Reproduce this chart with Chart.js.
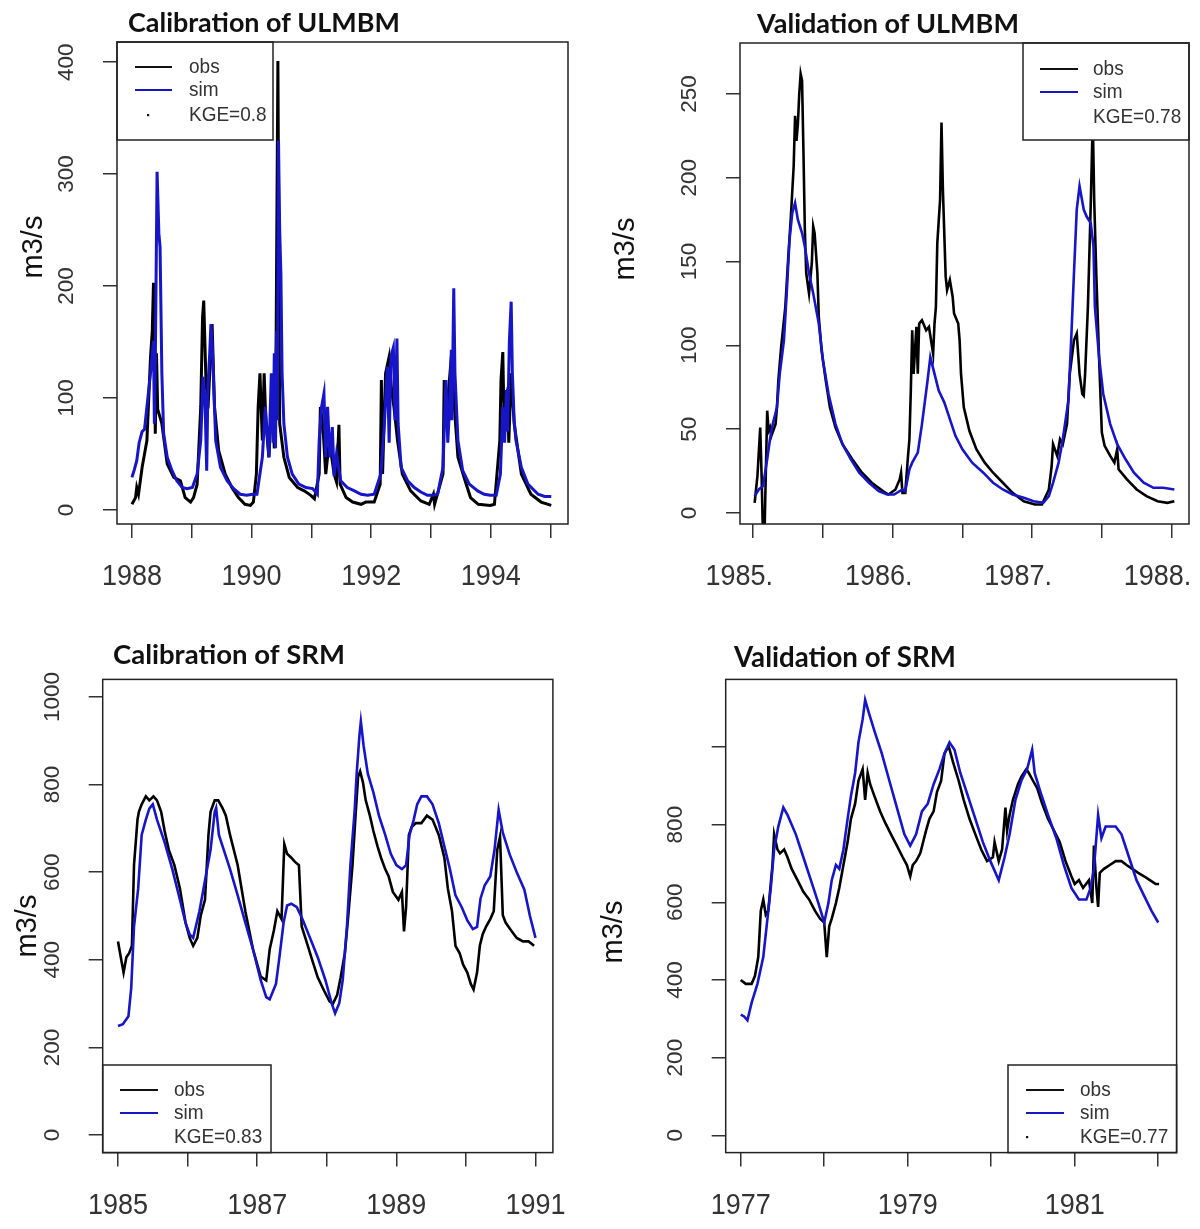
<!DOCTYPE html>
<html><head><meta charset="utf-8">
<script src="https://cdn.jsdelivr.net/npm/chart.js@4.4.0/dist/chart.umd.min.js"></script>
<style>
html,body{margin:0;padding:0;background:#fff;}
#wrap{position:relative;width:1200px;height:1229px;overflow:hidden;background:#fff;}
canvas{position:absolute;display:block;}
</style></head><body><div id="wrap">
<canvas id="c1" width="600" height="614" style="left:0;top:0"></canvas>
<canvas id="c2" width="600" height="614" style="left:600px;top:0"></canvas>
<canvas id="c3" width="600" height="615" style="left:0;top:614px"></canvas>
<canvas id="c4" width="600" height="615" style="left:600px;top:614px"></canvas>
</div>
<script>
// ---------- DATA ----------
// Panel 1: Calibration of ULMBM
const p1ObsYears = [1988.00,1988.06,1988.08,1988.11,1988.17,1988.25,1988.31,1988.34,1988.36,1988.39,1988.41,1988.43,1988.50,1988.59,1988.70,1988.81,1988.89,1988.98,1989.03,1989.09,1989.15,1989.18,1989.20,1989.24,1989.28,1989.34,1989.38,1989.45,1989.56,1989.67,1989.78,1989.89,1989.98,1990.03,1990.08,1990.11,1990.14,1990.18,1990.21,1990.24,1990.29,1990.34,1990.38,1990.41,1990.44,1990.47,1990.54,1990.63,1990.77,1990.88,1990.99,1991.05,1991.13,1991.15,1991.19,1991.24,1991.30,1991.38,1991.42,1991.46,1991.48,1991.58,1991.69,1991.83,1991.91,1992.05,1992.15,1992.17,1992.19,1992.24,1992.30,1992.34,1992.38,1992.44,1992.52,1992.66,1992.83,1992.97,1993.04,1993.06,1993.20,1993.22,1993.27,1993.34,1993.39,1993.45,1993.57,1993.66,1993.79,1993.99,1994.06,1994.15,1994.17,1994.20,1994.22,1994.24,1994.28,1994.30,1994.34,1994.39,1994.51,1994.67,1994.84,1995.01];
const p1ObsFlow  = [5,11,20,14,38,62,136,160,203,68,140,90,77,41,29,26,11,7,11,23,92,172,187,110,100,166,92,53,32,20,11,5,4,7,32,92,122,62,122,77,47,100,55,151,401,77,47,29,20,17,13,10,32,92,77,32,62,32,25,76,23,11,7,5,7,7,23,116,32,122,137,107,92,62,32,17,8,5,14,5,32,116,92,137,92,47,26,11,5,4,5,62,116,141,80,98,107,60,122,77,32,14,7,4];
const p1SimYears = [1988.00,1988.04,1988.08,1988.12,1988.17,1988.21,1988.25,1988.31,1988.36,1988.375,1988.39,1988.42,1988.45,1988.47,1988.50,1988.53,1988.59,1988.67,1988.75,1988.84,1988.92,1989.01,1989.09,1989.15,1989.19,1989.22,1989.25,1989.27,1989.30,1989.32,1989.34,1989.36,1989.40,1989.48,1989.59,1989.70,1989.81,1989.92,1990.02,1990.09,1990.18,1990.23,1990.29,1990.33,1990.36,1990.38,1990.40,1990.42,1990.43,1990.45,1990.47,1990.49,1990.51,1990.54,1990.60,1990.68,1990.79,1990.91,1991.02,1991.10,1991.13,1991.17,1991.21,1991.24,1991.27,1991.31,1991.35,1991.38,1991.42,1991.49,1991.60,1991.72,1991.83,1991.94,1992.05,1992.16,1992.22,1992.27,1992.30,1992.33,1992.37,1992.40,1992.43,1992.45,1992.50,1992.61,1992.72,1992.83,1992.94,1993.03,1993.11,1993.20,1993.25,1993.28,1993.31,1993.34,1993.35,1993.38,1993.40,1993.45,1993.53,1993.64,1993.78,1993.89,1993.99,1994.09,1994.16,1994.20,1994.23,1994.26,1994.28,1994.31,1994.34,1994.36,1994.39,1994.42,1994.51,1994.62,1994.79,1994.90,1995.01];
const p1SimFlow  = [29,36,44,60,70,72,92,122,151,77,130,302,247,235,122,68,47,35,26,20,19,20,32,62,119,100,35,110,140,166,150,122,62,38,26,19,14,13,14,14,47,92,47,122,60,140,55,160,80,330,250,211,122,77,47,32,23,20,19,14,62,92,104,47,92,47,74,30,50,26,20,17,14,13,14,32,77,128,60,137,145,80,153,77,38,26,20,16,13,13,14,38,116,60,92,143,80,198,122,62,35,23,17,14,13,13,32,92,60,107,70,151,186,122,80,62,38,23,14,12,12];
const p1XTicks = [1988,1989,1990,1991,1992,1993,1994,1995];
const p1XLabels = ['1988','','1990','','1992','','1994',''];
const p1YTicks = [0,100,200,300,400];
const p1YLabels = ['0','100','200','300','400'];

// Panel 2: Validation of ULMBM
const p2ObsYears = [1985.01,1985.03,1985.05,1985.06,1985.07,1985.08,1985.10,1985.11,1985.12,1985.13,1985.16,1985.17,1985.18,1985.20,1985.23,1985.25,1985.27,1985.29,1985.30,1985.31,1985.32,1985.33,1985.34,1985.35,1985.36,1985.37,1985.38,1985.40,1985.42,1985.43,1985.44,1985.46,1985.47,1985.49,1985.52,1985.55,1985.59,1985.64,1985.71,1985.78,1985.85,1985.93,1985.97,1986.02,1986.05,1986.06,1986.07,1986.09,1986.11,1986.12,1986.13,1986.14,1986.15,1986.17,1986.18,1986.19,1986.21,1986.24,1986.26,1986.29,1986.30,1986.31,1986.32,1986.34,1986.35,1986.36,1986.38,1986.39,1986.41,1986.43,1986.44,1986.47,1986.48,1986.49,1986.51,1986.55,1986.60,1986.66,1986.72,1986.79,1986.86,1986.94,1987.02,1987.07,1987.12,1987.14,1987.15,1987.18,1987.20,1987.22,1987.25,1987.27,1987.30,1987.32,1987.34,1987.36,1987.37,1987.38,1987.40,1987.42,1987.435,1987.445,1987.46,1987.48,1987.50,1987.52,1987.56,1987.59,1987.61,1987.62,1987.68,1987.75,1987.82,1987.90,1987.97,1988.02];
const p2ObsFlow  = [6,22,51,22,-15,-15,61,49,51,46,53,63,79,99,123,151,177,207,237,222,232,250,262,258,216,169,143,131,149,171,167,143,117,97,79,63,51,41,32,24,18,13,11,14,20,24,12,12,34,44,73,109,83,111,83,113,115,109,111,95,113,123,161,187,233,193,141,133,139,129,119,113,103,83,63,49,38,30,24,18,12,7,5,5,14,28,41,34,44,41,53,83,103,107,83,71,70,83,123,183,235,187,143,93,48,40,34,30,38,26,20,14,10,7,6,7];
const p2SimYears = [1985.01,1985.04,1985.07,1985.10,1985.12,1985.14,1985.17,1985.19,1985.22,1985.24,1985.26,1985.28,1985.30,1985.32,1985.35,1985.37,1985.40,1985.43,1985.47,1985.50,1985.54,1985.59,1985.64,1985.70,1985.76,1985.83,1985.90,1985.96,1986.01,1986.07,1986.09,1986.12,1986.14,1986.18,1986.21,1986.25,1986.27,1986.30,1986.33,1986.37,1986.41,1986.45,1986.50,1986.57,1986.65,1986.72,1986.79,1986.86,1986.94,1987.01,1987.08,1987.12,1987.15,1987.19,1987.22,1987.26,1987.28,1987.30,1987.32,1987.34,1987.37,1987.39,1987.42,1987.44,1987.45,1987.48,1987.51,1987.56,1987.61,1987.67,1987.73,1987.80,1987.87,1987.94,1988.02];
const p2SimFlow  = [10,14,16,32,44,53,63,83,103,131,163,179,185,175,167,159,143,131,113,91,71,53,41,32,24,18,13,11,11,14,13,26,30,36,53,79,93,83,73,66,56,46,38,30,24,18,14,11,9,7,6,10,18,30,44,67,103,143,181,195,181,177,173,159,123,93,71,53,41,32,24,18,15,15,14];
const p2XTicks = [1985,1985.5,1986,1986.5,1987,1987.5,1988];
const p2XLabels = ['1985.','','1986.','','1987.','','1988.'];
const p2YTicks = [0,50,100,150,200,250];
const p2YLabels = ['0','50','100','150','200','250'];

// Panel 3: Calibration of SRM
const p3ObsYears = [1985.00,1985.04,1985.08,1985.12,1985.16,1985.20,1985.23,1985.28,1985.30,1985.34,1985.40,1985.45,1985.51,1985.56,1985.62,1985.67,1985.73,1985.81,1985.89,1985.97,1986.03,1986.08,1986.14,1986.19,1986.25,1986.30,1986.33,1986.39,1986.44,1986.50,1986.55,1986.61,1986.72,1986.83,1986.94,1987.05,1987.13,1987.18,1987.24,1987.29,1987.35,1987.39,1987.43,1987.49,1987.54,1987.60,1987.64,1987.71,1987.79,1987.87,1987.96,1988.04,1988.09,1988.15,1988.20,1988.26,1988.31,1988.37,1988.41,1988.45,1988.48,1988.52,1988.56,1988.62,1988.67,1988.73,1988.78,1988.84,1988.89,1988.95,1989.03,1989.08,1989.11,1989.14,1989.18,1989.22,1989.28,1989.36,1989.44,1989.52,1989.61,1989.69,1989.74,1989.80,1989.85,1989.91,1989.96,1990.02,1990.07,1990.11,1990.16,1990.20,1990.24,1990.29,1990.35,1990.40,1990.45,1990.49,1990.53,1990.57,1990.65,1990.73,1990.82,1990.90,1990.98];
const p3ObsFlow  = [442,406,371,406,415,432,616,720,738,755,773,764,773,764,738,694,651,616,563,485,450,432,450,502,537,685,738,764,764,747,729,685,616,511,424,362,353,424,467,511,493,664,642,633,624,616,476,441,400,360,330,305,300,320,360,415,502,616,720,817,830,805,764,729,694,659,633,607,590,555,537,555,465,520,685,703,712,712,729,720,685,633,563,511,432,415,389,371,345,332,371,432,458,476,493,511,651,681,502,485,467,450,442,442,432];
const p3SimYears = [1985.00,1985.07,1985.15,1985.19,1985.23,1985.29,1985.34,1985.40,1985.45,1985.50,1985.56,1985.67,1985.78,1985.89,1985.97,1986.03,1986.08,1986.17,1986.25,1986.33,1986.39,1986.41,1986.45,1986.52,1986.61,1986.72,1986.83,1986.94,1987.05,1987.13,1987.18,1987.27,1987.32,1987.38,1987.43,1987.49,1987.57,1987.65,1987.76,1987.87,1987.98,1988.07,1988.12,1988.18,1988.23,1988.29,1988.34,1988.40,1988.43,1988.47,1988.49,1988.53,1988.59,1988.67,1988.75,1988.84,1988.92,1989.00,1989.08,1989.14,1989.19,1989.25,1989.30,1989.36,1989.44,1989.52,1989.61,1989.69,1989.77,1989.85,1989.94,1990.02,1990.10,1990.16,1990.21,1990.27,1990.35,1990.41,1990.47,1990.53,1990.63,1990.73,1990.84,1990.92,1991.00];
const p3SimFlow  = [249,253,271,336,476,563,685,720,745,755,720,668,607,537,485,458,450,511,581,651,738,747,685,651,607,547,485,424,354,315,310,345,406,485,524,528,520,493,450,406,354,301,278,301,354,476,616,738,825,913,944,888,825,782,729,685,642,616,607,616,685,720,755,773,773,755,712,659,607,547,520,490,470,475,540,570,590,650,742,690,640,600,560,500,450];
const p3XTicks = [1985,1986,1987,1988,1989,1990,1991];
const p3XLabels = ['1985','','1987','','1989','','1991'];
const p3YTicks = [0,200,400,600,800,1000];
const p3YLabels = ['0','200','400','600','800','1000'];

// Panel 4: Validation of SRM
const p4ObsYears = [1977.00,1977.06,1977.13,1977.17,1977.21,1977.24,1977.27,1977.30,1977.33,1977.38,1977.40,1977.44,1977.47,1977.52,1977.56,1977.61,1977.68,1977.75,1977.82,1977.89,1977.95,1978.00,1978.03,1978.06,1978.09,1978.14,1978.18,1978.23,1978.28,1978.32,1978.37,1978.41,1978.46,1978.49,1978.52,1978.55,1978.60,1978.67,1978.73,1978.80,1978.87,1978.94,1978.99,1979.03,1979.06,1979.10,1979.15,1979.22,1979.26,1979.31,1979.35,1979.40,1979.44,1979.49,1979.54,1979.61,1979.67,1979.74,1979.81,1979.88,1979.95,1980.02,1980.04,1980.09,1980.13,1980.17,1980.19,1980.22,1980.26,1980.32,1980.36,1980.42,1980.45,1980.50,1980.55,1980.61,1980.68,1980.75,1980.82,1980.89,1980.96,1981.00,1981.05,1981.10,1981.17,1981.21,1981.23,1981.26,1981.28,1981.30,1981.35,1981.42,1981.49,1981.56,1981.62,1981.69,1981.76,1981.83,1981.90,1981.97,1982.01];
const p4ObsFlow  = [400,390,390,410,459,578,607,568,578,696,775,736,726,736,716,686,657,627,607,578,558,548,459,538,558,598,637,696,755,815,854,913,943,864,933,904,874,834,805,775,746,716,696,667,696,706,726,785,815,834,884,913,983,1002,963,913,864,815,775,736,706,716,755,706,736,844,785,825,864,904,923,943,933,913,894,854,815,785,755,706,667,647,657,637,657,598,746,637,588,676,686,696,706,706,696,686,676,667,657,647,647];
const p4SimYears = [1977.00,1977.04,1977.08,1977.13,1977.20,1977.27,1977.31,1977.36,1977.40,1977.45,1977.51,1977.56,1977.66,1977.75,1977.84,1977.93,1978.00,1978.05,1978.09,1978.14,1978.18,1978.23,1978.28,1978.32,1978.37,1978.41,1978.46,1978.49,1978.53,1978.60,1978.69,1978.78,1978.87,1978.96,1979.03,1979.10,1979.17,1979.24,1979.31,1979.38,1979.44,1979.50,1979.56,1979.63,1979.72,1979.81,1979.90,1979.99,1980.09,1980.16,1980.22,1980.29,1980.36,1980.43,1980.49,1980.52,1980.59,1980.68,1980.78,1980.87,1980.96,1981.05,1981.14,1981.19,1981.23,1981.28,1981.32,1981.37,1981.42,1981.49,1981.56,1981.65,1981.74,1981.83,1981.92,1982.00];
const p4SimFlow  = [311,306,296,341,390,459,538,637,736,795,844,825,775,716,657,598,548,598,657,696,686,736,815,874,933,1012,1071,1121,1091,1042,983,913,844,775,746,775,834,854,904,943,983,1012,993,933,874,815,755,706,657,716,775,864,913,943,993,933,884,825,765,696,637,607,607,637,686,825,765,795,795,795,775,716,657,617,578,548];
const p4XTicks = [1977,1978,1979,1980,1981,1982];
const p4XLabels = ['1977','','1979','','1981',''];
const p4YTicks = [0,200,400,600,800,1000];
const p4YLabels = ['0','200','400','600','800',''];

// ---------- DRAWING ----------
const BLUE = '#1616c8';
const SANS = '"Liberation Sans", Arial, sans-serif';

function rPlugin(cfg){
  return {
    id:'rstyle'+cfg.id,
    afterDatasetsDraw(chart){
      const c = chart.ctx, a = chart.chartArea;
      const L = cfg.legend;
      c.save();
      c.fillStyle = '#fff';
      c.fillRect(L.x0, L.y0, L.x1-L.x0, L.y1-L.y0);
      c.strokeStyle = '#222'; c.lineWidth = 1.5;
      c.strokeRect(L.x0, L.y0, L.x1-L.x0, L.y1-L.y0);
      c.lineWidth = 1.8;
      c.strokeStyle = '#111';
      c.beginPath(); c.moveTo(L.lx0, L.rows[0]); c.lineTo(L.lx1, L.rows[0]); c.stroke();
      c.strokeStyle = BLUE;
      c.beginPath(); c.moveTo(L.lx0, L.rows[1]); c.lineTo(L.lx1, L.rows[1]); c.stroke();
      if (L.dot){ c.fillStyle='#111'; c.fillRect(L.dot-1, L.rows[2]-1, 2.2, 2.2); }
      c.fillStyle = '#333';
      c.font = L.font + 'px ' + SANS;
      c.textAlign = 'left'; c.textBaseline = 'middle';
      const texts = ['obs','sim',cfg.kge];
      texts.forEach((t,i)=>{ c.save(); c.translate(L.tx, L.rows[i]); c.scale(1,1.1); c.fillText(t,0,0); c.restore(); });
      c.restore();
      c.save();
      c.strokeStyle = '#222'; c.lineWidth = 1.5;
      c.strokeRect(a.left, a.top, a.right-a.left, a.bottom-a.top);
      c.restore();
    },
    afterDraw(chart){
      const c = chart.ctx, a = chart.chartArea, xs = chart.scales.x, ys = chart.scales.y;
      c.save();
      c.fillStyle = '#333';
      c.font = cfg.xFont + 'px ' + SANS;
      c.textAlign = 'center'; c.textBaseline = 'middle';
      cfg.xTicks.forEach((v,i)=>{
        const lab = cfg.xLabels[i]; if(!lab) return;
        c.save(); c.translate(xs.getPixelForValue(v) + (cfg.xShift||0), a.bottom + 53); c.scale(1,1.1); c.fillText(lab,0,0); c.restore();
      });
      c.font = cfg.yFont + 'px ' + SANS;
      cfg.yTicks.forEach((v,i)=>{
        const lab = cfg.yLabels[i]; if(!lab) return;
        c.save(); c.translate(a.left - 50, ys.getPixelForValue(v)); c.rotate(-Math.PI/2); c.fillText(lab,0,0); c.restore();
      });
      c.fillStyle = '#111';
      c.font = '29px ' + SANS;
      c.save(); c.translate(cfg.ytitle[0], cfg.ytitle[1]); c.rotate(-Math.PI/2); c.fillText('m3/s',0,0); c.restore();
      c.font = 'bold 22px Lato, "Open Sans", sans-serif';
      const w = c.measureText(cfg.title).width;
      const fs = 22 * cfg.titleBox[2] / w;
      c.font = 'bold ' + fs.toFixed(2) + 'px Lato, "Open Sans", sans-serif';
      c.textAlign = 'left'; c.textBaseline = 'alphabetic';
      c.fillStyle = '#111';
      c.fillText(cfg.title, cfg.titleBox[0], cfg.titleBox[1]);
      c.restore();
    }
  };
}

function makePanel(cfg){
  const el = document.getElementById(cfg.id);
  const W = el.width, H = el.height, A = cfg.area;
  const obs = cfg.obsX.map((x,i)=>({x:x, y:cfg.obsY[i]}));
  const sim = cfg.simX.map((x,i)=>({x:x, y:cfg.simY[i]}));
  const gridOpts = {drawOnChartArea:false, drawTicks:true, tickLength:14, color:'#333', lineWidth:1.5};
  return new Chart(el, {
    type:'line',
    data:{datasets:[
      {label:'sim', data:sim, borderColor:BLUE, borderWidth:cfg.lw, pointRadius:0, tension:0, order:0, borderJoinStyle:'miter'},
      {label:'obs', data:obs, borderColor:'#000', borderWidth:cfg.lw, pointRadius:0, tension:0, order:1, borderJoinStyle:'miter'}
    ]},
    options:{
      responsive:false, animation:false, devicePixelRatio:1,
      layout:{padding:{left:0, top:A.t, right:W-A.r, bottom:0}},
      plugins:{legend:{display:false}, tooltip:{enabled:false}},
      events:[],
      scales:{
        x:{type:'linear', min:cfg.xmin, max:cfg.xmax,
           afterBuildTicks:(s)=>{ s.ticks = cfg.xTicks.map(v=>({value:v})); },
           afterFit:(s)=>{ s.height = H - A.b; },
           ticks:{display:false}, grid:gridOpts, border:{display:false}},
        y:{type:'linear', min:cfg.ymin, max:cfg.ymax,
           afterBuildTicks:(s)=>{ s.ticks = cfg.yTicks.map(v=>({value:v})); },
           afterFit:(s)=>{ s.width = A.l; },
           ticks:{display:false}, grid:gridOpts, border:{display:false}}
      }
    },
    plugins:[rPlugin(cfg)]
  });
}

makePanel({id:'c1', title:'Calibration of ULMBM', titleBox:[128,32,272], kge:'KGE=0.8',
  area:{l:117,t:42,r:568,b:524}, xmin:1987.75, xmax:1995.29, ymin:-12.6, ymax:418,
  obsX:p1ObsYears, obsY:p1ObsFlow, simX:p1SimYears, simY:p1SimFlow,
  xTicks:p1XTicks, xLabels:p1XLabels, yTicks:p1YTicks, yLabels:p1YLabels,
  xFont:27, yFont:22.5, lw:3, ytitle:[34,247],
  legend:{x0:117,y0:42,x1:273,y1:140, lx0:135, lx1:172, tx:189, rows:[67,90,115], font:19, dot:148}});

makePanel({id:'c2', title:'Validation of ULMBM', titleBox:[157,32.5,262], kge:'KGE=0.78',
  area:{l:140,t:43,r:589,b:524}, xmin:1984.905, xmax:1988.125, ymin:-6.6, ymax:280.4,
  obsX:p2ObsYears, obsY:p2ObsFlow, simX:p2SimYears, simY:p2SimFlow,
  xTicks:p2XTicks, xLabels:p2XLabels, yTicks:p2YTicks, yLabels:p2YLabels, xShift:-14,
  xFont:27, yFont:22.5, lw:2.6, ytitle:[26,249],
  legend:{x0:423,y0:43,x1:589,y1:140, lx0:440, lx1:478, tx:493, rows:[69,92,117], font:19, dot:0}});

makePanel({id:'c3', title:'Calibration of SRM', titleBox:[113,50,232], kge:'KGE=0.83',
  area:{l:102.7,t:65.4,r:552.9,b:538.6}, xmin:1984.78, xmax:1991.25, ymin:-40, ymax:1040,
  obsX:p3ObsYears, obsY:p3ObsFlow, simX:p3SimYears, simY:p3SimFlow,
  xTicks:p3XTicks, xLabels:p3XLabels, yTicks:p3YTicks, yLabels:p3YLabels,
  xFont:27, yFont:22.5, lw:2.6, ytitle:[28,312],
  legend:{x0:102.7,y0:451,x1:271,y1:538.6, lx0:120, lx1:158, tx:174, rows:[476,499,523], font:19, dot:0}});

makePanel({id:'c4', title:'Validation of SRM', titleBox:[134,52.5,222], kge:'KGE=0.77',
  area:{l:125.7,t:65.4,r:576.6,b:538.6}, xmin:1976.82, xmax:1982.22, ymin:-44.6, ymax:1174,
  obsX:p4ObsYears, obsY:p4ObsFlow, simX:p4SimYears, simY:p4SimFlow,
  xTicks:p4XTicks, xLabels:p4XLabels, yTicks:p4YTicks, yLabels:p4YLabels,
  xFont:27, yFont:22.5, lw:2.6, ytitle:[14,318],
  legend:{x0:408,y0:451,x1:576.6,y1:538.6, lx0:426, lx1:464, tx:480, rows:[476,499,523], font:19, dot:427}});
</script>
</body></html>
